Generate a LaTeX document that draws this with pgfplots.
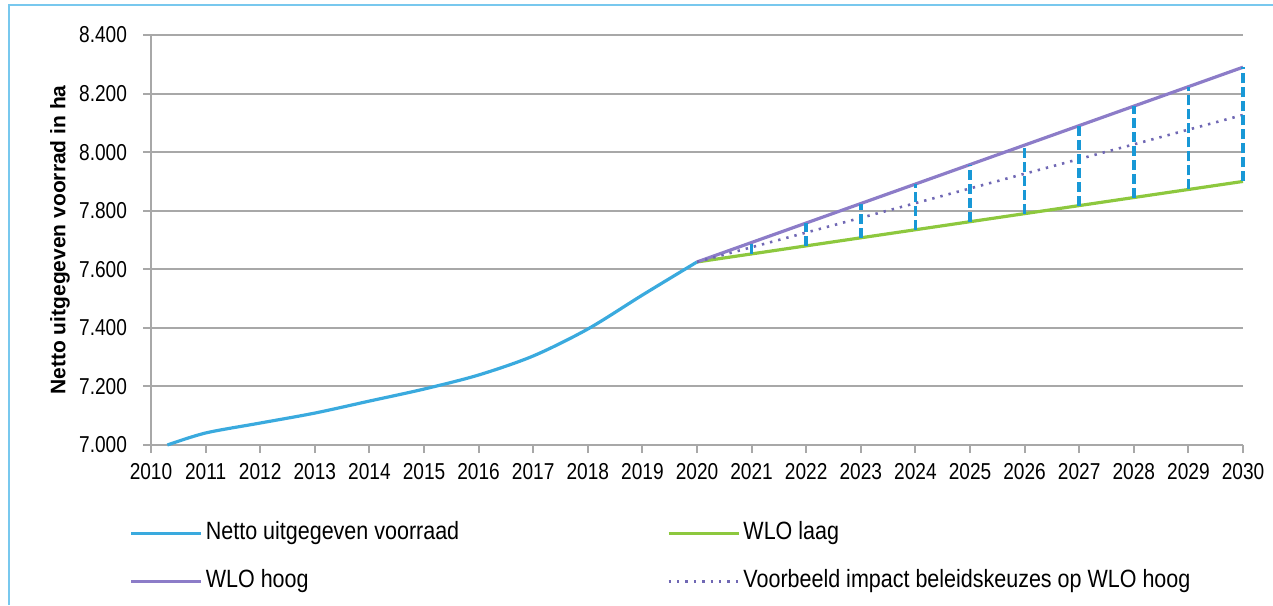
\documentclass[border=0pt]{standalone}
\usepackage{fontspec}
\setmainfont{Liberation Sans}
\newfontfamily\tickfont[FakeStretch=0.83]{Liberation Sans}
\newfontfamily\legfont[FakeStretch=0.86]{Liberation Sans}
\usepackage{pgfplots}
\pgfplotsset{compat=1.18}
\definecolor{netto}{RGB}{58,170,222}
\definecolor{laag}{RGB}{141,200,62}
\definecolor{hoog}{RGB}{140,124,200}
\definecolor{dotc}{RGB}{112,104,180}
\definecolor{dashc}{RGB}{24,152,214}
\definecolor{gridgray}{RGB}{168,168,168}
\definecolor{frame}{RGB}{120,200,238}
\begin{document}
\begin{tikzpicture}
\path[use as bounding box] (0,0) rectangle (636.5pt,302.5pt);
\draw[frame, line width=1.2pt] (4.5pt,0) -- (4.5pt,300pt) -- (636.5pt,300pt);
\begin{axis}[
  at={(75.5pt,80pt)}, anchor=south west,
  scale only axis, width=546pt, height=205pt,
  xmin=2010, xmax=2030, ymin=7000, ymax=8400,
  clip=false,
  xtick={2010,2011,...,2030},
  ytick={7000,7200,...,8400},
  yticklabels={7.000,7.200,7.400,7.600,7.800,8.000,8.200,8.400},
  xticklabel style={/pgf/number format/1000 sep={}, /pgf/number format/assume math mode=true, yshift=-1.5pt},
  yticklabel style={xshift=-4.5pt},
  ticklabel style={font=\tickfont\fontsize{11.5pt}{13pt}\selectfont},
  axis x line*=bottom, axis y line*=left,
  axis line style={gridgray, line width=1pt},
  tick align=outside, major tick length=4pt,
  tick style={gridgray, line width=1pt},
  ymajorgrids, grid style={gridgray, line width=1pt},
  ylabel={\bfseries Netto uitgegeven voorrad in ha},
  ylabel style={at={(axis description cs:-0.0833,0.5)}, anchor=center, font=\fontsize{10.5pt}{12pt}\selectfont},
  legend columns=2,
  legend cell align=left,
  legend image code/.code={\draw[#1] (0pt,0pt) -- (35pt,0pt);},
  legend style={draw=none, fill=none, at={(axis description cs:-0.0201,-0.1866)}, anchor=north west,
    inner sep=0pt, row sep=12.5pt, column sep=0pt,
    font=\legfont\fontsize{12.5pt}{14pt}\selectfont,
    nodes={inner xsep=1.6pt, inner ysep=0pt, text height=9pt, text depth=2.5pt}},
]
\addplot[netto, line width=1.6pt, smooth] coordinates {
 (2010.3,7000) (2011,7041) (2012,7075) (2013,7109) (2014,7150) (2015,7191)
 (2016,7239) (2017,7304) (2018,7396) (2019,7512) (2020,7625)};
\addlegendentry{\makebox[229pt][l]{Netto uitgegeven voorraad}}
\addplot[laag, line width=1.6pt] coordinates {(2020,7625) (2030,7900)};
\addlegendentry{WLO laag}
\addplot[hoog, line width=1.6pt] coordinates {(2020,7625) (2030,8290)};
\addlegendentry{\makebox[229pt][l]{WLO hoog}}
\addplot[dotc, line width=1.3pt, dash pattern=on 1.2pt off 3pt] coordinates {(2020,7625) (2030,8127)};
\addlegendentry{Voorbeeld impact beleidskeuzes op WLO hoog}
\addplot[dashc, line width=1.8pt, dash pattern=on 5pt off 2pt, forget plot, unbounded coords=jump] coordinates {
 (2021,7652.5) (2021,7691.5) (2021,nan)
 (2022,7680) (2022,7758) (2022,nan)
 (2023,7707.5) (2023,7824.5) (2023,nan)
 (2024,7735) (2024,7891) (2024,nan)
 (2025,7762.5) (2025,7957.5) (2025,nan)
 (2026,7790) (2026,8024) (2026,nan)
 (2027,7817.5) (2027,8090.5) (2027,nan)
 (2028,7845) (2028,8157) (2028,nan)
 (2029,7872.5) (2029,8223.5) (2029,nan)
 (2030,7900) (2030,8290)};
\end{axis}
\end{tikzpicture}
\end{document}
